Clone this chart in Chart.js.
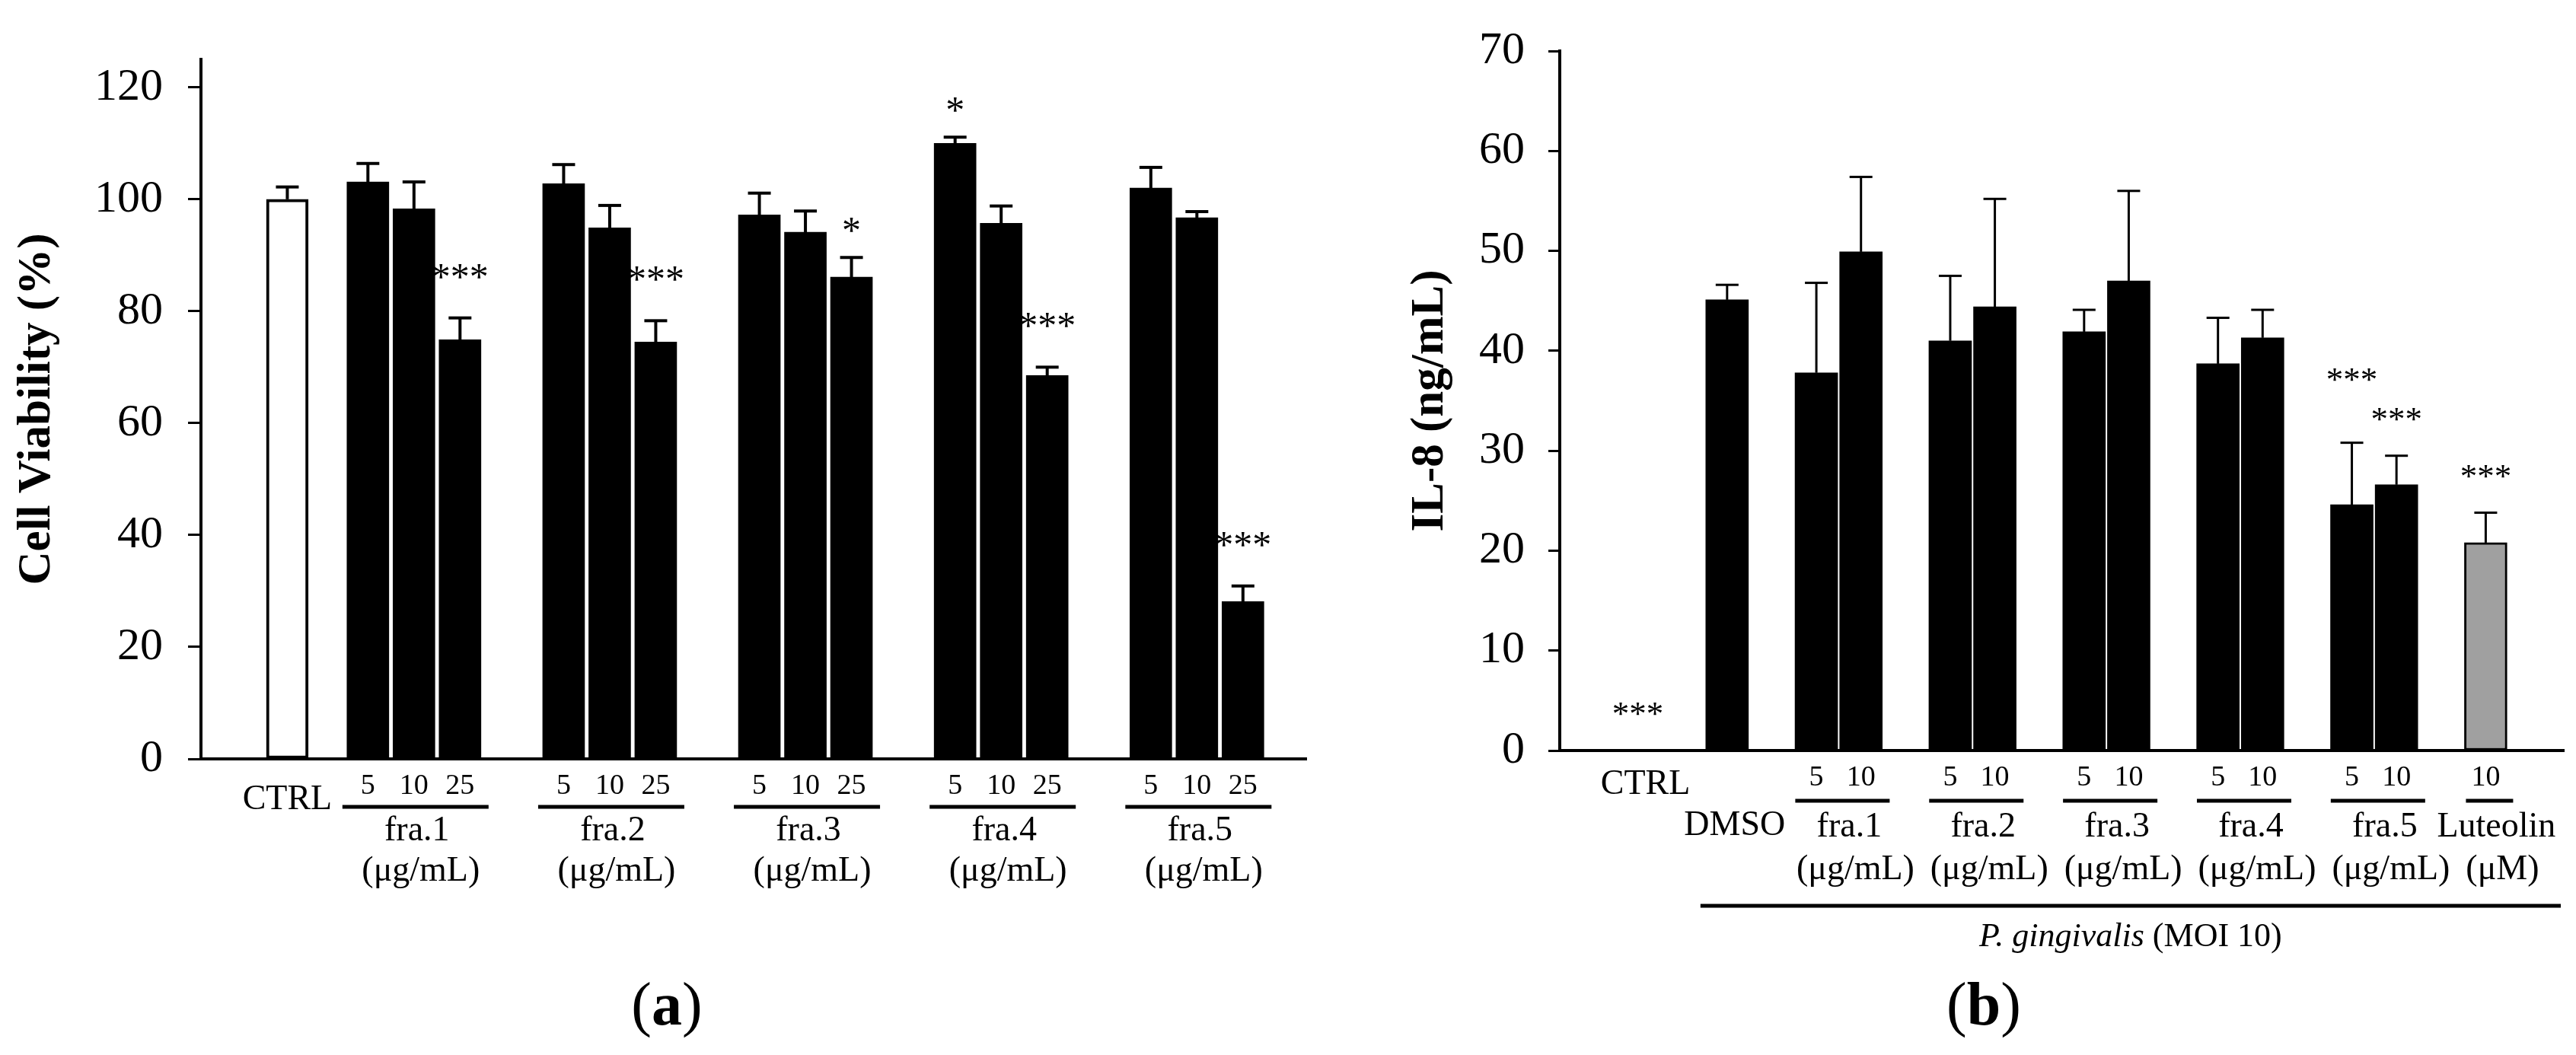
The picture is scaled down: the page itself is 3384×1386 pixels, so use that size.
<!DOCTYPE html>
<html>
<head>
<meta charset="utf-8">
<style>
  html, body { margin: 0; padding: 0; background: #fff; }
  body { width: 3384px; height: 1386px; position: relative; overflow: hidden; }
  canvas { position: absolute; top: 0; }
  #chartA { left: 0; }
  #chartB { left: 1740px; }
</style>
</head>
<body>
<canvas id="chartA" width="1740" height="1386"></canvas>
<canvas id="chartB" width="1644" height="1386"></canvas>

<script src="https://cdn.jsdelivr.net/npm/chart.js"></script>

<script>
  // ---- panel (a): cell viability ----
  const groupsA = ['fra.1', 'fra.2', 'fra.3', 'fra.4', 'fra.5']
  const unitA = '(μg/mL)'
  const dosesA = ['5', '10', '25']
  const ctrlA = 100
  const ctrlErrA = 2.2
  const viability = [
    [103.1, 98.3, 74.9],
    [102.8, 94.9, 74.5],
    [97.2, 94.1, 86.1],
    [110.0, 95.7, 68.5],
    [102.0, 96.7, 28.1]
  ]
  const viabilityErr = [
    [3.3, 4.8, 3.9],
    [3.4, 4.0, 3.8],
    [3.9, 3.8, 3.5],
    [1.1, 3.1, 1.5],
    [3.7, 1.1, 2.8]
  ]
  const starsA = [
    ['', '', '***'],
    ['', '', '***'],
    ['', '', '*'],
    ['*', '', '***'],
    ['', '', '***']
  ]
  const yTicksA = [0, 20, 40, 60, 80, 100, 120]

  // ---- panel (b): IL-8 ----
  const controlsB = ['CTRL', 'DMSO']
  const controlIL8 = [0, 45.1]
  const controlErr = [null, 1.5]
  const controlStars = ['***', '']
  const groupsB = ['fra.1', 'fra.2', 'fra.3', 'fra.4', 'fra.5', 'Luteolin']
  const unitsB = ['(μg/mL)', '(μg/mL)', '(μg/mL)', '(μg/mL)', '(μg/mL)', '(μM)']
  const dosesB = [['5', '10'], ['5', '10'], ['5', '10'], ['5', '10'], ['5', '10'], ['10']]
  const il8 = [[37.8, 49.9], [41.0, 44.4], [41.9, 47.0], [38.7, 41.3], [24.6, 26.6], [20.8]]
  const il8Err = [[9.0, 7.5], [6.5, 10.8], [2.2, 9.0], [4.6, 2.8], [6.2, 2.9], [3.0]]
  const starsB = [['', ''], ['', ''], ['', ''], ['', ''], ['***', '***'], ['***']]
  const yTicksB = [0, 10, 20, 30, 40, 50, 60, 70]

  const FAMILY = "'Liberation Serif', 'Times New Roman', serif"
  Chart.defaults.font.family = FAMILY
  Chart.defaults.color = '#000'

  function font(size, style) {
    return (style || '') + ' ' + size + 'px ' + FAMILY
  }

  function text(ctx, str, x, y, size, style) {
    ctx.font = font(size, style)
    ctx.textAlign = 'center'
    ctx.fillText(str, x, y)
  }

  // draws runs of text with different styles, centred on cx
  function mixed(ctx, parts, cx, y, size) {
    let w = 0
    parts.forEach(p => { ctx.font = font(size, p[1]); w += ctx.measureText(p[0]).width })
    let x = cx - w / 2
    ctx.textAlign = 'left'
    parts.forEach(p => {
      ctx.font = font(size, p[1])
      ctx.fillText(p[0], x, y)
      x += ctx.measureText(p[0]).width
    })
  }

  function hline(ctx, x1, x2, y, w) {
    ctx.lineWidth = w
    ctx.beginPath()
    ctx.moveTo(x1, y)
    ctx.lineTo(x2, y)
    ctx.stroke()
  }

  // category slots so the gaps between groups come out right
  function slotArrays(n) {
    return {
      labels: new Array(n).fill(''),
      values: new Array(n).fill(null),
      errors: new Array(n).fill(null),
      marks: new Array(n).fill(''),
      fill: new Array(n).fill('#000'),
      border: new Array(n).fill(0)
    }
  }

  const A = slotArrays(96)
  const CTRL_SLOT_A = 7
  A.values[CTRL_SLOT_A] = ctrlA
  A.errors[CTRL_SLOT_A] = ctrlErrA
  A.fill[CTRL_SLOT_A] = '#fff'
  A.border[CTRL_SLOT_A] = 4
  const groupSlotsA = groupsA.map((g, k) => dosesA.map((d, j) => {
    const i = 14 + k * 17 + j * 4
    A.labels[i] = d
    A.values[i] = viability[k][j]
    A.errors[i] = viabilityErr[k][j]
    A.marks[i] = starsA[k][j]
    return i
  }))

  const B = slotArrays(45)
  const controlSlotsB = [3, 7]
  controlsB.forEach((c, k) => {
    const i = controlSlotsB[k]
    B.values[i] = controlIL8[k]
    B.errors[i] = controlErr[k]
    B.marks[i] = controlStars[k]
  })
  const groupSlotsB = groupsB.map((g, k) => dosesB[k].map((d, j) => {
    const i = 11 + k * 6 + j * 2
    B.labels[i] = d
    B.values[i] = il8[k][j]
    B.errors[i] = il8Err[k][j]
    B.marks[i] = starsB[k][j]
    if (g === 'Luteolin') { B.fill[i] = '#a0a0a0'; B.border[i] = 3 }
    return i
  }))

  function errorPlugin(S, opt) {
    return {
      id: 'errors',
      afterDatasetsDraw(chart) {
        const ctx = chart.ctx, x = chart.scales.x, y = chart.scales.y
        ctx.save()
        ctx.strokeStyle = '#000'
        ctx.fillStyle = '#000'
        ctx.textBaseline = 'alphabetic'
        const placed = []
        // right to left, so a star that would collide goes above its neighbour
        for (let i = S.values.length - 1; i >= 0; i--) {
          const v = S.values[i]
          if (v === null) continue
          const px = x.getPixelForValue(i)
          let top = y.getPixelForValue(v)
          if (S.errors[i] !== null) {
            const e = y.getPixelForValue(v + S.errors[i])
            ctx.lineWidth = opt.errWidth
            ctx.beginPath()
            ctx.moveTo(px, top)
            ctx.lineTo(px, e)
            ctx.stroke()
            hline(ctx, px - 15, px + 15, e, opt.errWidth)
            top = e
          }
          if (S.marks[i]) {
            ctx.font = font(opt.starSize)
            const w = ctx.measureText(S.marks[i]).width
            let base = top - (S.marks[i].length > 1 ? opt.lift3 : opt.lift1)
            placed.forEach(p => {
              if (Math.abs(p.x - px) < (p.w + w) / 2 && Math.abs(p.base - base) < opt.starSize) {
                base = Math.min(base, p.base - opt.starSize * 1.15)
              }
            })
            text(ctx, S.marks[i], px, base, opt.starSize)
            placed.push({ x: px, w: w, base: base })
          }
        }
        ctx.restore()
      },
      afterDraw(chart) {
        chart.ctx.save()
        chart.ctx.fillStyle = '#000'
        chart.ctx.strokeStyle = '#000'
        chart.ctx.textBaseline = 'alphabetic'
        opt.labels(chart)
        chart.ctx.restore()
      }
    }
  }

  function labelsA(chart) {
    const ctx = chart.ctx, x = chart.scales.x, base = chart.chartArea.bottom
    text(ctx, 'CTRL', x.getPixelForValue(CTRL_SLOT_A), base + 66, 46)
    groupSlotsA.forEach((slots, k) => {
      const c = (x.getPixelForValue(slots[0]) + x.getPixelForValue(slots[slots.length - 1])) / 2
      hline(ctx, c - 94, c + 98, base + 63, 5)
      text(ctx, groupsA[k], c + 4, base + 107, 46)
      text(ctx, unitA, c + 9, base + 160, 46)
    })
    mixed(ctx, [['(', ''], ['a', 'bold'], [')', '']], 876, 1346, 80)
  }

  function labelsB(chart) {
    const ctx = chart.ctx, x = chart.scales.x, base = chart.chartArea.bottom
    text(ctx, controlsB[0], x.getPixelForValue(controlSlotsB[0]) + 10, base + 57, 46)
    const dmso = x.getPixelForValue(controlSlotsB[1])
    text(ctx, controlsB[1], dmso + 10, base + 111, 46)
    groupSlotsB.forEach((slots, k) => {
      const c = (x.getPixelForValue(slots[0]) + x.getPixelForValue(slots[slots.length - 1])) / 2
      const half = slots.length > 1 ? 62 : 31
      hline(ctx, c - half + 5, c + half + 5, base + 66, 5)
      text(ctx, groupsB[k], c + 14, base + 113, 46)
      text(ctx, unitsB[k], c + 22, base + 169, 46)
    })
    const x1 = dmso - 35, x2 = chart.chartArea.right - 4
    hline(ctx, x1, x2, base + 204, 5)
    mixed(ctx, [['P. gingivalis', 'italic'], [' (MOI 10)', '']], (x1 + x2) / 2, base + 257, 44)
    mixed(ctx, [['(', ''], ['b', 'bold'], [')', '']], 866, 1346, 80)
  }

  function makeChart(id, S, o) {
    return new Chart(document.getElementById(id), {
      type: 'bar',
      data: {
        labels: S.labels,
        datasets: [{
          data: S.values,
          backgroundColor: S.fill,
          borderColor: '#000',
          borderWidth: S.border,
          borderSkipped: false,
          barThickness: o.barWidth
        }]
      },
      options: {
        responsive: false,
        animation: false,
        devicePixelRatio: 1,
        layout: { padding: o.padding },
        plugins: { legend: { display: false }, tooltip: { enabled: false } },
        scales: {
          x: {
            grid: { display: false, drawTicks: false, tickLength: 0 },
            border: { display: true, color: '#000', width: 4 },
            ticks: { autoSkip: false, maxRotation: 0, minRotation: 0, padding: 13, font: { size: 38 } },
            afterFit: s => { s.height = 50 }
          },
          y: {
            min: 0,
            max: o.max,
            afterBuildTicks: s => { s.ticks = o.ticks.map(v => ({ value: v })) },
            grid: { display: true, drawOnChartArea: false, drawTicks: true, tickLength: o.tickLength, tickWidth: 3, tickColor: '#000' },
            border: { display: true, color: '#000', width: 4 },
            ticks: { padding: o.tickPad, font: { size: 60 } },
            title: { display: true, text: o.title, font: { size: 61, weight: 'bold' }, padding: { top: o.titlePad, bottom: 0 } },
            afterFit: s => { s.width = o.axisWidth }
          }
        }
      },
      plugins: [errorPlugin(S, o)]
    })
  }

  makeChart('chartA', A, {
    barWidth: 55, max: 125, ticks: yTicksA, tickLength: 17, tickPad: 33,
    title: 'Cell Viability (%)', titlePad: 13, axisWidth: 264,
    padding: { left: 0, top: 78, right: 24, bottom: 339 },
    errWidth: 4, starSize: 50, lift3: 38, lift1: 19, labels: labelsA
  })

  makeChart('chartB', B, {
    barWidth: 56, max: 70, ticks: yTicksB, tickLength: 15, tickPad: 31,
    title: 'IL-8 (ng/mL)', titlePad: 103, axisWidth: 309,
    padding: { left: 0, top: 37, right: 16, bottom: 350 },
    errWidth: 3, starSize: 45, lift3: 34, lift1: 19, labels: labelsB
  })
</script>
</body>
</html>
